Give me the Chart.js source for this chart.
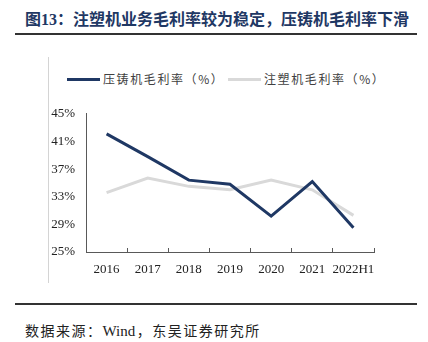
<!DOCTYPE html>
<html lang="zh">
<head>
<meta charset="UTF-8">
<title>注塑机业务毛利率较为稳定，压铸机毛利率下滑</title>
<script src="https://cdn.jsdelivr.net/npm/chart.js"></script>
<style>
  body { margin: 0; background: #fff; width: 428px; height: 342px; position: relative; overflow: hidden; }
  #title { position: absolute; left: 25px; top: 7px; font: bold 16px "Noto Sans CJK SC", sans-serif; color: #1f3864; white-space: nowrap; line-height: 22px; }
  #title .num { font-family: "Liberation Serif", serif; }
  .rule { position: absolute; left: 15px; width: 402px; height: 2px; background: #333; }
  #vline { position: absolute; left: 48px; top: 57px; width: 1px; height: 226px; background: #d4d4d4; }
  #legend { position: absolute; top: 70px; left: 67px; font: 12px "Noto Sans CJK SC", sans-serif; color: #404040; white-space: nowrap; line-height: 18px; letter-spacing: 1.6px; }
  #legend span.item { position: absolute; top: 0; }
  #legend i { display: inline-block; width: 33px; height: 3px; vertical-align: middle; margin-right: 3px; position: relative; top: -1px; }
  #src { position: absolute; left: 25px; top: 320px; font: 14px "Noto Sans CJK SC", sans-serif; color: #222; white-space: nowrap; letter-spacing: 1.5px; }
  #src .en { font-family: "Liberation Serif", serif; font-size: 15px; letter-spacing: 0; margin-right: 1.5px; }
  #wrap { position: absolute; left: 40px; top: 95px; width: 350px; height: 185px; }
</style>
</head>
<body>
<div id="title">图<span class="num">13</span>：注塑机业务毛利率较为稳定，压铸机毛利率下滑</div>
<div class="rule" style="top:33px"></div>
<div id="vline"></div>
<div id="legend">
  <span class="item" style="left:0"><i style="background:#1f3864"></i>压铸机毛利率（%）</span>
  <span class="item" style="left:161px"><i style="background:#d9d9d9"></i>注塑机毛利率（%）</span>
</div>
<div id="wrap"><canvas id="c" width="350" height="185"></canvas></div>
<div class="rule" style="top:303px"></div>
<div id="src">数据来源：<span class="en">Wind</span>，东吴证券研究所</div>
<script>
  // 数据
  const years = ['2016', '2017', '2018', '2019', '2020', '2021', '2022H1'];
  const dieCasting = [42.1, 38.8, 35.4, 34.8, 30.2, 35.2, 28.5];     // 压铸机毛利率
  const injection = [33.6, 35.7, 34.5, 34.0, 35.4, 34.0, 30.3];      // 注塑机毛利率
  const yTicks = [25, 29, 33, 37, 41, 45];

  const numFont = { family: 'Liberation Serif', size: 13 };

  new Chart(document.getElementById('c'), {
    type: 'line',
    data: {
      labels: years,
      datasets: [
        { label: '压铸机毛利率（%）', data: dieCasting, borderColor: '#1f3864', borderWidth: 3, pointRadius: 0, tension: 0, order: 1 },
        { label: '注塑机毛利率（%）', data: injection, borderColor: '#d9d9d9', borderWidth: 3, pointRadius: 0, tension: 0, order: 2 }
      ]
    },
    options: {
      responsive: false,
      animation: false,
      layout: { padding: { top: 13, right: 16, left: 0, bottom: 0 } },
      plugins: { legend: { display: false }, tooltip: { enabled: false } },
      scales: {
        x: {
          offset: true,
          grid: { display: true, drawOnChartArea: false, drawTicks: true, tickLength: -4, color: '#595959', offset: true },
          border: { color: '#595959', width: 1 },
          ticks: { font: numFont, color: '#222', padding: 14, maxRotation: 0, autoSkip: false },
          afterFit: s => { s.height = 28; }
        },
        y: {
          min: 25, max: 45,
          afterBuildTicks: s => { s.ticks = yTicks.map(v => ({ value: v })); },
          grid: { display: false, drawTicks: false },
          border: { color: '#595959', width: 1 },
          ticks: { font: numFont, color: '#222', padding: 11, callback: v => v + '%' },
          afterFit: s => { s.width = 46; }
        }
      }
    }
  });
</script>
</body>
</html>
